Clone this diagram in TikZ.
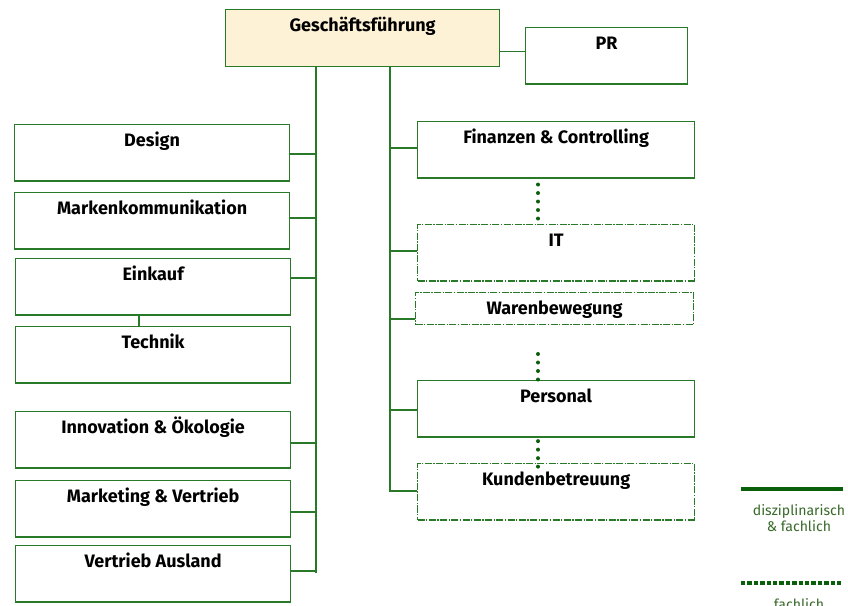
\documentclass[tikz,border=0pt]{standalone}
\usepackage{fontspec}
\setmainfont{Fira Sans}
\definecolor{orggreen}{RGB}{40,122,40}
\definecolor{dotgreen}{RGB}{10,95,10}
\definecolor{leggreen}{RGB}{55,105,40}
\definecolor{gffill}{RGB}{253,241,214}
\begin{document}
\begin{tikzpicture}[x=0.025cm, y=-0.025cm, font=\fontsize{12.8}{14}\selectfont\bfseries,
  box/.style={draw=orggreen, line width=0.8pt, anchor=north west, inner sep=0pt,
    text height=0.55cm, text depth=0.86cm, minimum width=6.875cm},
  rbox/.style={box, minimum width=6.925cm},
  dbox/.style={rbox, dash pattern=on 5pt off 1pt on 1pt off 1pt},
  conn/.style={draw=orggreen, line width=0.8pt},
  dots/.style={draw=dotgreen, line width=0.1cm, line cap=round, dash pattern=on 0pt off 0.2125cm}]
  \useasboundingbox (0,0) rectangle (848,605);
  % top
  \node[box, fill=gffill, minimum width=6.85cm, text depth=0.88cm] (gf) at (225,9) {Geschäftsführung};
  \node[box, minimum width=4.05cm] (pr) at (525,27) {PR};
  % left column
  \node[box] (design) at (14,124) {Design};
  \node[box] (marken) at (14,192) {Markenkommunikation};
  \node[box] (einkauf) at (15,258) {Einkauf};
  \node[box] (technik) at (15,326) {Technik};
  \node[box] (innov) at (15,411) {Innovation \& Ökologie};
  \node[box] (marketing) at (15,480) {Marketing \& Vertrieb};
  \node[box] (ausland) at (15,545) {Vertrieb Ausland};
  % right column
  \node[rbox] (fin) at (417,121) {Finanzen \& Controlling};
  \node[dbox] (it) at (417,224) {IT};
  \node[dbox, minimum width=6.95cm, text depth=0.25cm] (waren) at (415,292) {Warenbewegung};
  \node[rbox] (pers) at (417,380) {Personal};
  \node[dbox] (kunden) at (417,463) {Kundenbetreuung};
  % lines
  \coordinate (ltrunk) at (316,573);
  \coordinate (rtrunk) at (390,492);
  \coordinate (dx) at (538,0);
  \draw[conn] ([yshift=0.1cm]pr.west) -- ([yshift=0.1cm]pr.west -| gf.east);
  \draw[conn] (gf.south -| ltrunk) -- (ltrunk);
  \draw[conn] (gf.south -| rtrunk) -- (rtrunk);
  \foreach \n/\y in {design/154, marken/218, einkauf/278, innov/443, marketing/512, ausland/571}
    \draw[conn] (\n.east |- 0,\y) -- ([xshift=1pt]ltrunk |- 0,\y);
  \foreach \n/\y in {fin/148, it/251, waren/319, pers/410, kunden/491}
    \draw[conn] (\n.west |- 0,\y) -- (rtrunk |- 0,\y);
  \draw[conn] (einkauf.south -| 139,0) -- (technik.north -| 139,0);
  \draw[dots, shorten <=0.15cm, shorten >=-0.05cm] (fin.south -| dx) -- (it.north -| dx);
  \coordinate (pdot) at (538,354);
  \draw[dots] (pdot) -- (pdot |- pers.north);
  \draw[dots, shorten <=0.09cm, shorten >=-0.1cm] (pers.south -| dx) -- (kunden.north -| dx);
  % legend
  \draw[draw=dotgreen, line width=0.1cm] (741,489) -- (843,489);
  \node[font=\fontsize{10}{11.5}\selectfont, text=leggreen, align=center] (legdf) at (799,518) {disziplinarisch\\\& fachlich};
  \draw[draw=dotgreen, line width=0.1cm, dash pattern=on 0.11cm off 0.05cm] (741,583) -- (843,583);
  \node[font=\fontsize{10}{11.5}\selectfont, text=leggreen, anchor=north] (legf) at (799,594) {fachlich};
\end{tikzpicture}
\end{document}
